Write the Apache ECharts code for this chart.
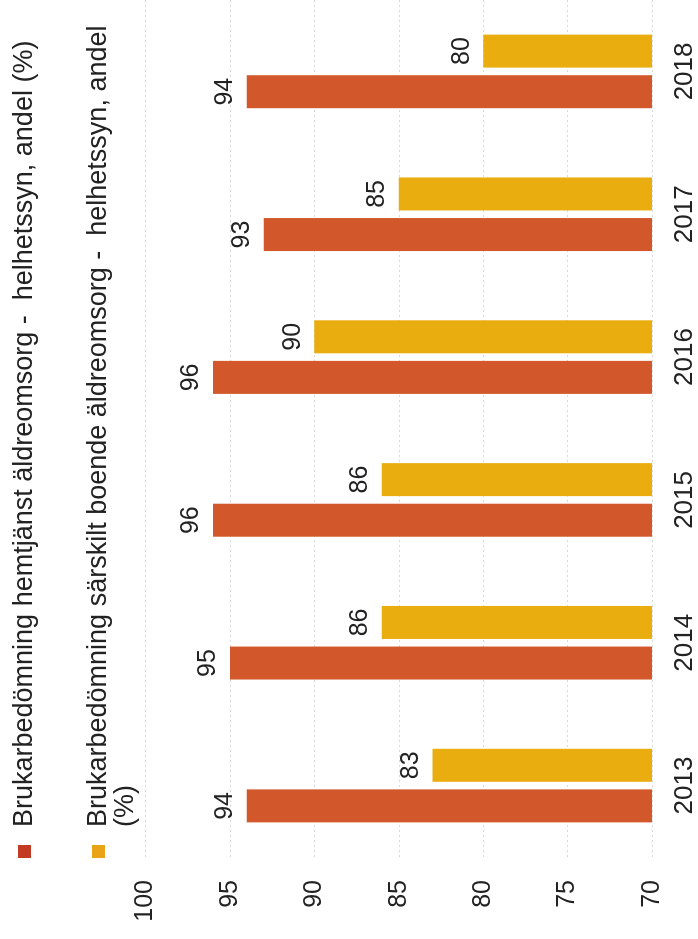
<!DOCTYPE html>
<html><head><meta charset="utf-8">
<script src="https://cdn.jsdelivr.net/npm/echarts@6/dist/echarts.min.js"></script>
<style>
html,body{margin:0;padding:0;width:698px;height:939px;overflow:hidden;background:#fff}
#chart{position:absolute;left:0;top:0;width:939px;height:698px;transform-origin:0 0;transform:translateY(939px) rotate(-90deg);}
</style></head><body><div id="chart"></div>
<script>
const years = ['2013', '2014', '2015', '2016', '2017', '2018'];
const hemtjanst = [94, 95, 96, 96, 93, 94];
const sarskiltBoende = [83, 86, 86, 90, 85, 80];
const seriesNames = [
  'Brukarbedömning hemtjänst äldreomsorg -  helhetssyn, andel (%)',
  'Brukarbedömning särskilt boende äldreomsorg -  helhetssyn, andel (%)'
];
const valueMin = 70, valueMax = 100, valueStep = 5;

const FONT = '"Liberation Sans", Arial, sans-serif';
const TXT = '#222';
const C1 = '#d2582b', C2 = '#e9ad10';
const M1 = '#c23b22', M2 = '#e8a317';

const chart = echarts.init(document.getElementById('chart'));
const labelCfg = {show: true, position: 'top', distance: 9, fontSize: 25, color: TXT, fontFamily: FONT};
chart.setOption({
  animation: false,
  backgroundColor: '#fff',
  grid: {left: 82, width: 874, top: 145.5, bottom: 46, containLabel: false},
  legend: [
    {
      data: [{name: seriesNames[0], icon: 'rect', itemStyle: {color: M1}}],
      orient: 'vertical', left: 81, top: 11, padding: 0,
      itemWidth: 13, itemHeight: 13, selectedMode: false,
      textStyle: {fontSize: 27, color: TXT, fontFamily: FONT, padding: [0, 0, 0, 13]}
    },
    {
      data: [{name: seriesNames[1], icon: 'rect', itemStyle: {color: M2}}],
      orient: 'vertical', left: 81, top: 58, padding: 0,
      itemWidth: 13, itemHeight: 13, selectedMode: false,
      formatter: n => '\n' + n.replace(' (%)', '\n(%)'),
      textStyle: {fontSize: 27, lineHeight: 27, color: TXT, fontFamily: FONT, padding: [0, 0, 0, 13]}
    }
  ],
  xAxis: {
    type: 'category', data: years,
    axisLine: {show: false}, axisTick: {show: false},
    axisLabel: {fontSize: 26, color: TXT, fontFamily: FONT, margin: 20}
  },
  yAxis: {
    type: 'value', min: valueMin, max: valueMax, interval: valueStep,
    axisLine: {show: false}, axisTick: {show: false},
    axisLabel: {fontSize: 25, color: TXT, fontFamily: FONT, margin: 23},
    splitLine: {show: true, lineStyle: {color: '#d9d9d9', width: 1, type: [2, 3]}}
  },
  series: [
    {name: seriesNames[0], type: 'bar', data: hemtjanst, barWidth: 33, barGap: '23%',
     itemStyle: {color: C1}, label: labelCfg},
    {name: seriesNames[1], type: 'bar', data: sarskiltBoende, barWidth: 33, barGap: '23%',
     itemStyle: {color: C2}, label: labelCfg}
  ]
});
</script></body></html>
